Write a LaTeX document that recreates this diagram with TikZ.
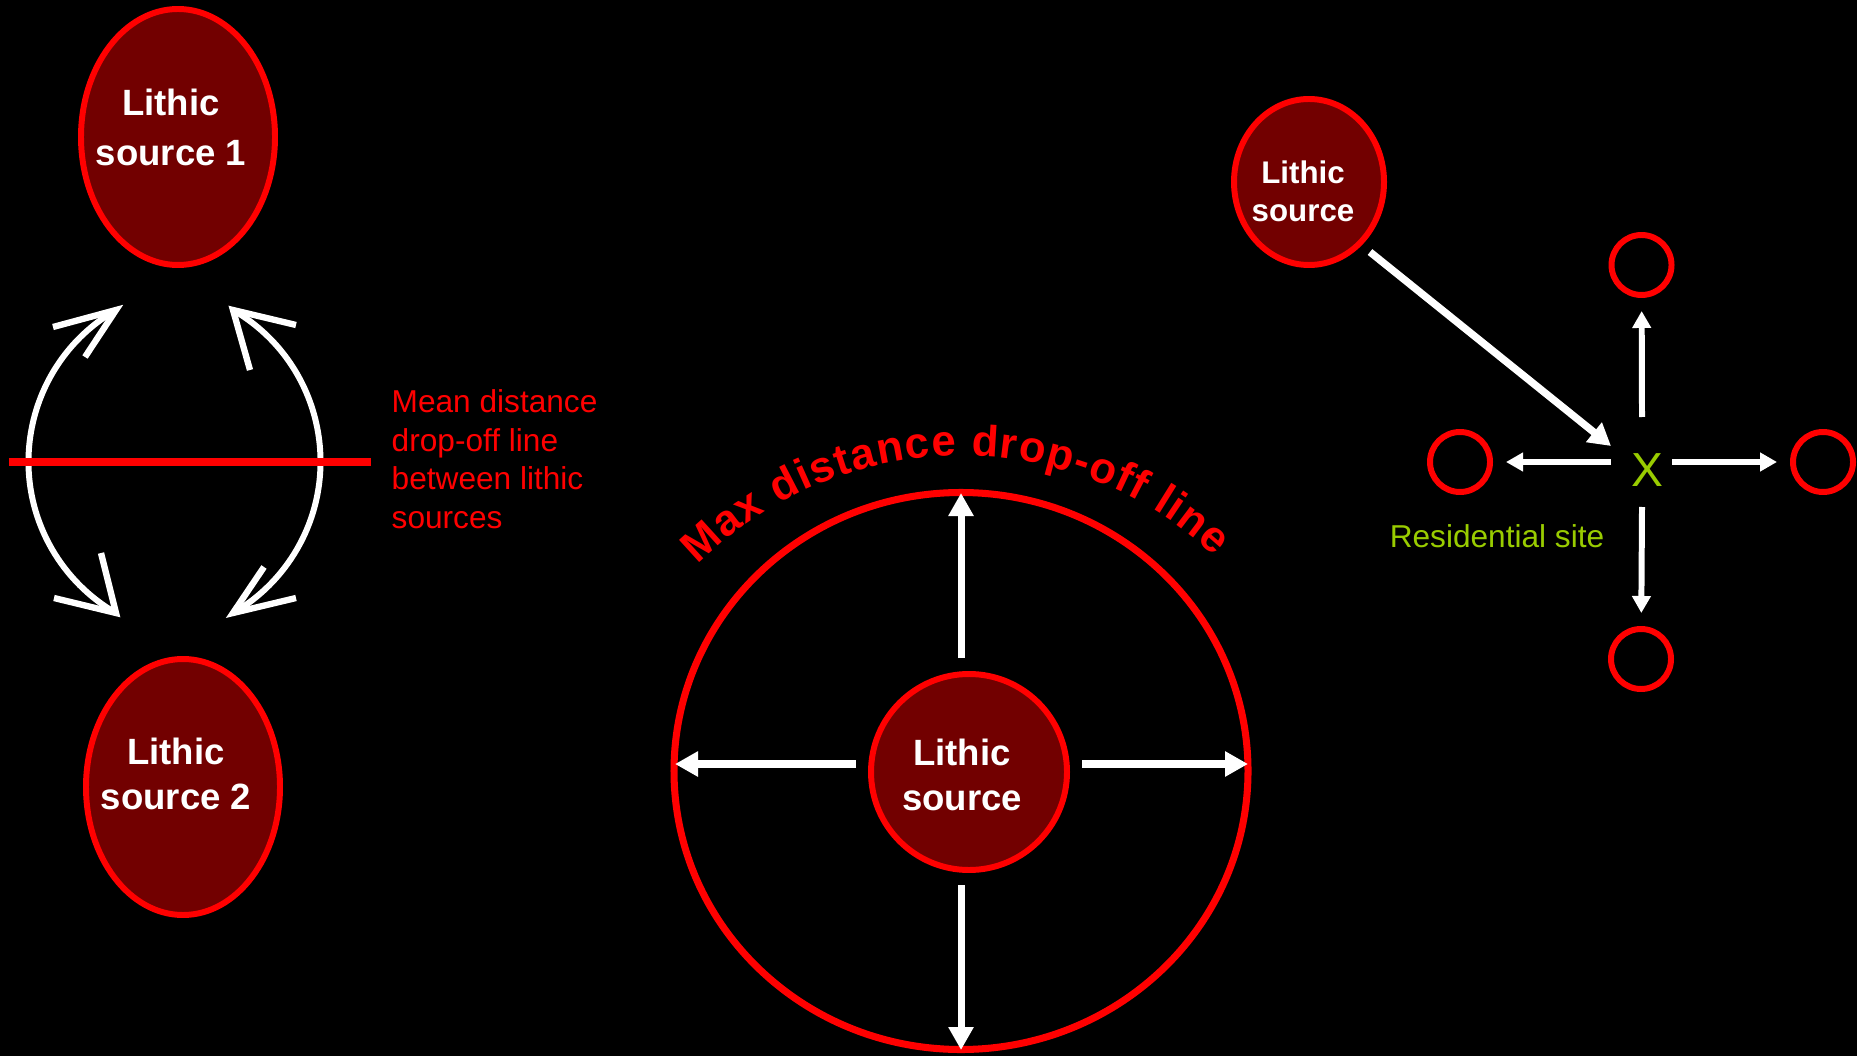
\documentclass[tikz,border=0pt]{standalone}
\usepackage{fontspec}
\setmainfont{Liberation Sans}
\usepackage{tikz}
\usetikzlibrary{arrows.meta,calc,shapes.geometric,decorations.text}
\definecolor{srcfill}{RGB}{114,0,0}
\definecolor{sitegreen}{RGB}{153,204,0}

\begin{document}
\begin{tikzpicture}[
    source/.style={ellipse, draw=red, line width=1.7pt, fill=srcfill, inner sep=0pt},
    srctext/.style={white, align=center, inner sep=0pt, font=\bfseries\fontsize{10.4}{12.8}\selectfont},
    site/.style={circle, draw=red, line width=1.7pt, minimum size=0.6cm, inner sep=0pt},
    swapline/.style={white, line width=1.7pt},
    barb/.style={white, line width=1.8pt, line join=miter},
    midarrow/.style={white, line width=2pt, -{Triangle[length=2.3mm,width=2.4mm]}},
    crossarrow/.style={white, line width=1.7pt, -{Triangle[length=1.7mm,width=1.8mm]}, shorten >=0.13cm},
    diagarrow/.style={white, line width=2.1pt, -{Triangle[length=2.2mm,width=2.4mm]}},
    meantext/.style={red, align=left, inner sep=0pt, font=\fontsize{9}{10.95}\selectfont},
    maxtext/.style={decorate, decoration={text along path, text color=red, text align={fit to path},
        text={|\bfseries\fontsize{12.4}{15}\selectfont|Max distance drop-off line}}}
]
    \useasboundingbox (0,0) rectangle (18.57,10.56);
    \fill[black] (0,0) rectangle (18.57,10.56);

    % two sources
    \node[source, minimum width=1.94cm, minimum height=2.56cm] (src1) at (1.78,9.19) {};
    \node[srctext, font=\bfseries\fontsize{10.4}{14.2}\selectfont] (lbl1) at ($(src1)+(-0.07,0.10)$) {Lithic\\source 1};
    \node[source, minimum width=1.94cm, minimum height=2.56cm] (src2) at (1.83,2.69) {};
    \node[srctext] (lbl2) at ($(src2)+(-0.07,0.13)$) {Lithic\\source 2};

    \coordinate (a1) at (1.16,7.46);  \coordinate (a2) at (1.16,4.43);
    \coordinate (b1) at (2.33,7.46);  \coordinate (b2) at (2.33,4.43);
    \draw[swapline] (a1) arc[start angle=120, end angle=240, radius=1.75];
    \draw[swapline] (b1) arc[start angle=60, end angle=-60, radius=1.75];
    \draw[barb] (0.53,7.29) -- (a1) -- (0.85,6.99);
    \draw[barb] (0.54,4.58) -- (a2) -- (1.01,5.03);
    \draw[barb] (2.96,7.31) -- (b1) -- (2.50,6.86);
    \draw[barb] (2.96,4.58) -- (b2) -- (2.64,4.89);

    \coordinate (cut1) at (0.09,5.94);
    \coordinate (cut2) at (3.71,5.94);
    \draw[red, line width=2pt] (cut1) -- (cut2);
    \node[meantext, anchor=north west] (mean) at (3.91,6.67) {Mean distance\\drop-off line\\between lithic\\sources};

    % one source, max distance
    \node[ellipse, draw=red, line width=2pt, minimum width=5.74cm, minimum height=5.57cm, inner sep=0pt] (maxline) at (9.61,2.85) {};
    \node[source, circle, minimum size=1.96cm] (srcmid) at (9.69,2.84) {};
    \node[srctext] (lblmid) at ($(srcmid)+(-0.07,-0.03)$) {Lithic\\source};

    \coordinate (m0) at (9.61,3.98);  \coordinate (m1) at (9.61,5.63);
    \coordinate (m2) at (9.61,1.71);  \coordinate (m3) at (9.61,0.06);
    \coordinate (m4) at (8.56,2.92);  \coordinate (m5) at (6.75,2.92);
    \coordinate (m6) at (10.82,2.92); \coordinate (m7) at (12.48,2.92);
    \foreach \a/\b in {m0/m1,m2/m3,m4/m5,m6/m7}
        \draw[midarrow] (\a) -- (\b);

    \coordinate (arc0) at ($(9.61,2.28)+(135:3.72)$);
    \path[maxtext] (arc0) arc[start angle=135, end angle=47, radius=3.72];

    % residential site
    \node[source, minimum width=1.50cm, minimum height=1.66cm] (srcR) at (13.09,8.74) {};
    \node[srctext, font=\bfseries\fontsize{8.9}{10.8}\selectfont] (lblR) at ($(srcR)+(-0.06,-0.095)$) {Lithic\\source};
    \node[text=sitegreen, inner sep=0pt, font=\fontsize{13.6}{16}\selectfont] (home) at (16.47,5.86) {X};
    \node[text=sitegreen, inner sep=0pt, font=\fontsize{9}{11}\selectfont] (reslbl) at (14.97,5.195) {Residential site};

    \node[site] (sitetop) at (16.415,7.91) {};
    \node[site] (siteleft) at (14.60,5.94) {};
    \node[site] (siteright) at (18.23,5.94) {};
    \node[site] (sitebot) at (16.41,3.97) {};

    \coordinate (d0) at (13.70,8.04);
    \coordinate (d1) at (16.11,6.10);
    \draw[diagarrow] (d0) -- (d1);

    \coordinate (hub) at (16.42,5.94);
    \draw[crossarrow] ($(hub)+(0,0.45)$) -- (sitetop);
    \draw[crossarrow] ($(hub)+(0,-0.45)$) -- (sitebot);
    \draw[crossarrow] ($(hub)+(-0.31,0)$) -- (siteleft);
    \draw[crossarrow] ($(hub)+(0.30,0)$) -- (siteright);
\end{tikzpicture}
\end{document}
